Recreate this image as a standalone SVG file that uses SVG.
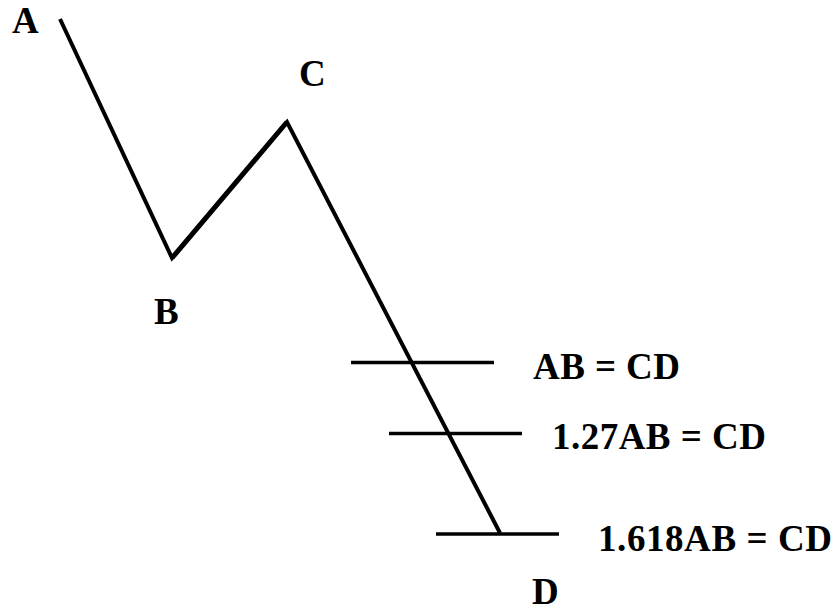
<svg xmlns="http://www.w3.org/2000/svg" width="835" height="611" viewBox="0 0 835 611">
<style>
.t{font-family:"Liberation Serif","Times New Roman",serif;font-weight:bold;font-size:37px;fill:#000}
.l{stroke:#000;fill:none;stroke-linecap:butt;stroke-linejoin:miter}
</style>
<rect width="835" height="611" fill="#fff"/>
<g id="connectors">
<polyline class="l" points="60,19 172,258 287,122 500,533" stroke-width="4"/>
<line class="l" x1="172" y1="258" x2="287" y2="122" stroke-width="5"/>
<line class="l" x1="351" y1="362.5" x2="494" y2="362.5" stroke-width="3.5"/>
<line class="l" x1="389" y1="433.5" x2="522" y2="433.5" stroke-width="3.5"/>
<line class="l" x1="436" y1="534" x2="559" y2="534" stroke-width="3.5"/>
</g>
<g id="A"><text class="t" x="12" y="33">A</text></g>
<g id="B"><text class="t" x="154" y="324">B</text></g>
<g id="C"><text class="t" x="299" y="86">C</text></g>
<g id="D"><text class="t" x="532" y="604">D</text></g>
<g id="l1"><text class="t" x="533" y="379" textLength="147">AB = CD</text></g>
<g id="l2"><text class="t" x="552" y="449" textLength="214">1.27AB = CD</text></g>
<g id="l3"><text class="t" x="598" y="551" textLength="234">1.618AB = CD</text></g>
</svg>
